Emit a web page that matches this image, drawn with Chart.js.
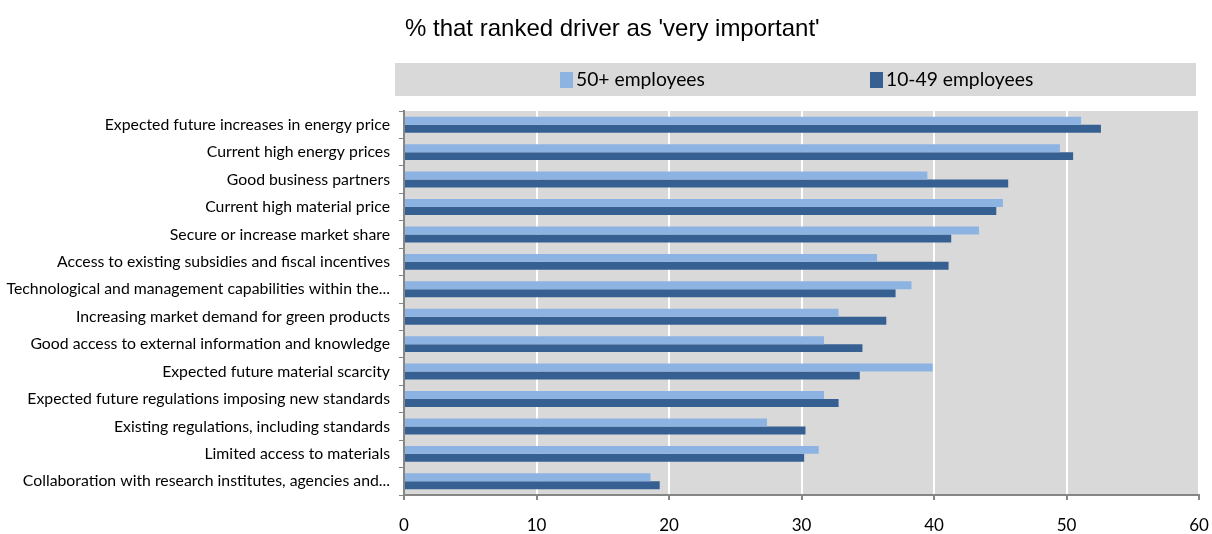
<!DOCTYPE html>
<html>
<head>
<meta charset="utf-8">
<script src="https://cdn.jsdelivr.net/npm/chart.js@4.4.1/dist/chart.umd.min.js"></script>
<style>
  html, body { margin: 0; padding: 0; background: #fff; }
  #wrap { width: 1212px; height: 534px; }
</style>
</head>
<body>
<div id="wrap"><canvas id="chart" width="1212" height="534"></canvas></div>
<script>
// drivers, top to bottom
const drivers = [
  'Expected future increases in energy price',
  'Current high energy prices',
  'Good business partners',
  'Current high material price',
  'Secure or increase market share',
  'Access to existing subsidies and fiscal incentives',
  'Technological and management capabilities within the...',
  'Increasing market demand for green products',
  'Good access to external information and knowledge',
  'Expected future material scarcity',
  'Expected future regulations imposing new standards',
  'Existing regulations, including standards',
  'Limited access to materials',
  'Collaboration with research institutes, agencies and...'
];

// % rating the driver 'very important'
const largeFirms = [51.1, 49.5, 39.5, 45.2, 43.4, 35.7, 38.3, 32.8, 31.7, 39.9, 31.7, 27.4, 31.3, 18.6];
const smallFirms = [52.6, 50.5, 45.6, 44.7, 41.3, 41.1, 37.1, 36.4, 34.6, 34.4, 32.8, 30.3, 30.2, 19.3];

const seriesNames = ['50+ employees', '10-49 employees'];
const seriesColors = ['#8db3e2', '#376092'];
const xTicks = [0, 10, 20, 30, 40, 50, 60];
const chartTitle = "% that ranked driver as 'very important'";

const LABEL_FONT = 'Lato, "Open Sans", sans-serif';

// title + grey legend strip above the plot
const headerPlugin = {
  id: 'header',
  afterDraw(chart) {
    const ctx = chart.ctx;
    const area = chart.chartArea;
    ctx.save();

    ctx.fillStyle = '#000';
    ctx.font = '24px "Liberation Sans", Arial, sans-serif';
    ctx.textBaseline = 'alphabetic';
    ctx.textAlign = 'left';
    ctx.fillText(chartTitle, area.left + 1, 36);

    const boxTop = 63, boxH = 33;
    ctx.fillStyle = '#d9d9d9';
    ctx.fillRect(area.left - 9, boxTop, area.right - area.left + 6, boxH);

    const itemX = [560, 870];
    ctx.font = '19.3px ' + LABEL_FONT;
    ctx.textBaseline = 'middle';
    chart.data.datasets.forEach((ds, i) => {
      ctx.fillStyle = ds.backgroundColor;
      ctx.fillRect(itemX[i], boxTop + 9, 13, 16);
      ctx.fillStyle = '#000';
      ctx.fillText(ds.label, itemX[i] + 16, boxTop + 17);
    });
    ctx.restore();
  }
};

// plot background
const plotBg = {
  id: 'plotBg',
  beforeDraw(chart) {
    const { ctx, chartArea: a } = chart;
    ctx.save();
    ctx.fillStyle = '#d9d9d9';
    ctx.fillRect(a.left, a.top, a.right - a.left, a.bottom - a.top);
    ctx.restore();
  }
};

new Chart(document.getElementById('chart'), {
  type: 'bar',
  data: {
    labels: drivers,
    datasets: [
      { label: seriesNames[0], data: largeFirms, backgroundColor: seriesColors[0] },
      { label: seriesNames[1], data: smallFirms, backgroundColor: seriesColors[1] }
    ]
  },
  options: {
    indexAxis: 'y',
    responsive: false,
    animation: false,
    categoryPercentage: 0.58,
    barPercentage: 1.0,
    layout: { padding: { top: 111, right: 13, left: 0, bottom: 0 } },
    plugins: {
      legend: { display: false },
      title: { display: false },
      tooltip: { enabled: false }
    },
    scales: {
      x: {
        min: 0,
        max: 60,
        afterBuildTicks: (scale) => { scale.ticks = xTicks.map(v => ({ value: v })); },
        afterFit: (scale) => {
          scale.height = 39;
          // let the end labels hang into the margin
          scale.paddingLeft = 0;
          scale.paddingRight = 0;
        },
        grid: { color: '#ffffff', lineWidth: 2, tickColor: '#868686', tickLength: 5 },
        border: { color: '#868686', width: 2 },
        ticks: { color: '#000', padding: 15, font: { family: LABEL_FONT, size: 17 } }
      },
      y: {
        afterFit: (scale) => { scale.width = 404; },
        grid: { offset: true, drawOnChartArea: false, tickColor: '#868686', tickLength: 5 },
        border: { color: '#868686', width: 2 },
        ticks: { color: '#000', padding: 9, autoSkip: false, font: { family: LABEL_FONT, size: 15.8 } }
      }
    }
  },
  plugins: [plotBg, headerPlugin]
});
</script>
</body>
</html>
